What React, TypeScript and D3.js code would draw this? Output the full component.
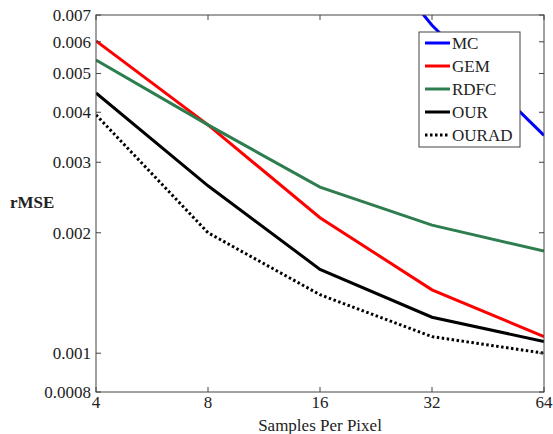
import React from "react";
import * as d3 from "d3";

// samples per pixel (x) and rMSE per method
const spp = [4, 8, 16, 32, 64];
const mc = [0.05, 0.027, 0.0145, 0.0066, 0.0035];
const gem = [0.00603, 0.00372, 0.00218, 0.00144, 0.0011];
const rdfc = [0.0054, 0.00372, 0.0026, 0.00209, 0.0018];
const our = [0.00447, 0.00262, 0.00162, 0.00123, 0.00107];
const ourad = [0.00394, 0.002, 0.0014, 0.0011, 0.001];

const yTicks = [0.0008, 0.001, 0.002, 0.003, 0.004, 0.005, 0.006, 0.007];
const seriesNames = ["MC", "GEM", "RDFC", "OUR", "OURAD"];

const W = 553;
const H = 434;
const margin = { left: 96, right: 9, top: 15, bottom: 42 };

const App = () => {
  const svgRef = React.useRef<SVGSVGElement>(null);

  React.useEffect(() => {
    const svgEl = d3.select(svgRef.current);
    svgEl.selectAll("*").remove();

    const x0 = margin.left;
    const x1 = W - margin.right;
    const y0 = H - margin.bottom;
    const y1 = margin.top;

    const xScale = d3.scaleLog().base(2).domain([4, 64]).range([x0, x1]);
    const yScale = d3.scaleLog().domain([0.0008, 0.007]).range([y0, y1]);

    const series = [
      { name: seriesNames[0], values: mc, color: "#0000ff", dash: null },
      { name: seriesNames[1], values: gem, color: "#ff0000", dash: null },
      { name: seriesNames[2], values: rdfc, color: "#2e7d4f", dash: null },
      { name: seriesNames[3], values: our, color: "#000000", dash: null },
      { name: seriesNames[4], values: ourad, color: "#000000", dash: "2.5,2.5" },
    ];

    const font = "'Liberation Serif', 'Times New Roman', serif";

    svgEl
      .append("rect")
      .attr("width", W)
      .attr("height", H)
      .attr("fill", "#fff");

    svgEl
      .append("defs")
      .append("clipPath")
      .attr("id", "plotClip")
      .append("rect")
      .attr("x", x0)
      .attr("y", y1)
      .attr("width", x1 - x0)
      .attr("height", y0 - y1);

    // lines
    const line = d3
      .line<number>()
      .x((d, i) => xScale(spp[i]))
      .y((d) => yScale(d));

    const plot = svgEl.append("g").attr("clip-path", "url(#plotClip)");
    plot
      .selectAll(".line")
      .data(series)
      .enter()
      .append("path")
      .attr("fill", "none")
      .attr("stroke", (d) => d.color)
      .attr("stroke-width", 3)
      .attr("stroke-dasharray", (d) => d.dash)
      .attr("d", (d) => line(d.values));

    // axes box
    const axisColor = "#444";
    svgEl
      .append("rect")
      .attr("x", x0)
      .attr("y", y1)
      .attr("width", x1 - x0)
      .attr("height", y0 - y1)
      .attr("fill", "none")
      .attr("stroke", axisColor)
      .attr("stroke-width", 1);

    const tickLen = 5;
    // y ticks (left and right, inward)
    yTicks.forEach((t) => {
      const y = yScale(t);
      svgEl.append("line").attr("x1", x0).attr("x2", x0 + tickLen).attr("y1", y).attr("y2", y).attr("stroke", axisColor);
      svgEl.append("line").attr("x1", x1).attr("x2", x1 - tickLen).attr("y1", y).attr("y2", y).attr("stroke", axisColor);
      svgEl
        .append("text")
        .attr("x", x0 - 5)
        .attr("y", y)
        .attr("dy", "0.35em")
        .attr("text-anchor", "end")
        .attr("font-family", font)
        .attr("font-size", 17)
        .attr("fill", "#222")
        .text(String(t));
    });

    // x ticks (bottom and top, inward)
    spp.forEach((t) => {
      const x = xScale(t);
      svgEl.append("line").attr("x1", x).attr("x2", x).attr("y1", y0).attr("y2", y0 - tickLen).attr("stroke", axisColor);
      svgEl.append("line").attr("x1", x).attr("x2", x).attr("y1", y1).attr("y2", y1 + tickLen).attr("stroke", axisColor);
      svgEl
        .append("text")
        .attr("x", x)
        .attr("y", y0 + 16)
        .attr("text-anchor", "middle")
        .attr("font-family", font)
        .attr("font-size", 17)
        .attr("fill", "#222")
        .text(String(t));
    });

    // axis titles
    svgEl
      .append("text")
      .attr("x", (x0 + x1) / 2)
      .attr("y", 431)
      .attr("text-anchor", "middle")
      .attr("font-family", font)
      .attr("font-size", 17)
      .attr("fill", "#222")
      .text("Samples Per Pixel");

    svgEl
      .append("text")
      .attr("x", 10)
      .attr("y", 208)
      .attr("font-family", font)
      .attr("font-size", 17)
      .attr("font-weight", "bold")
      .attr("fill", "#222")
      .text("rMSE");

    // legend
    const lg = svgEl.append("g").attr("transform", "translate(419,32)");
    lg.append("rect")
      .attr("width", 101)
      .attr("height", 115)
      .attr("fill", "#fff")
      .attr("stroke", axisColor)
      .attr("stroke-width", 1);

    series.forEach((s, i) => {
      const cy = 11 + i * 23;
      lg.append("line")
        .attr("x1", 6)
        .attr("x2", 31)
        .attr("y1", cy)
        .attr("y2", cy)
        .attr("stroke", s.color)
        .attr("stroke-width", 3)
        .attr("stroke-dasharray", s.dash);
      lg.append("text")
        .attr("x", 33)
        .attr("y", cy)
        .attr("dy", "0.35em")
        .attr("font-family", font)
        .attr("font-size", 17)
        .attr("fill", "#222")
        .text(s.name);
    });
  }, []);

  return (
    <div style={{ position: "absolute", left: 0, top: 0 }}>
      <svg ref={svgRef} width={W} height={H} style={{ display: "block" }} />
    </div>
  );
};

export default App;
